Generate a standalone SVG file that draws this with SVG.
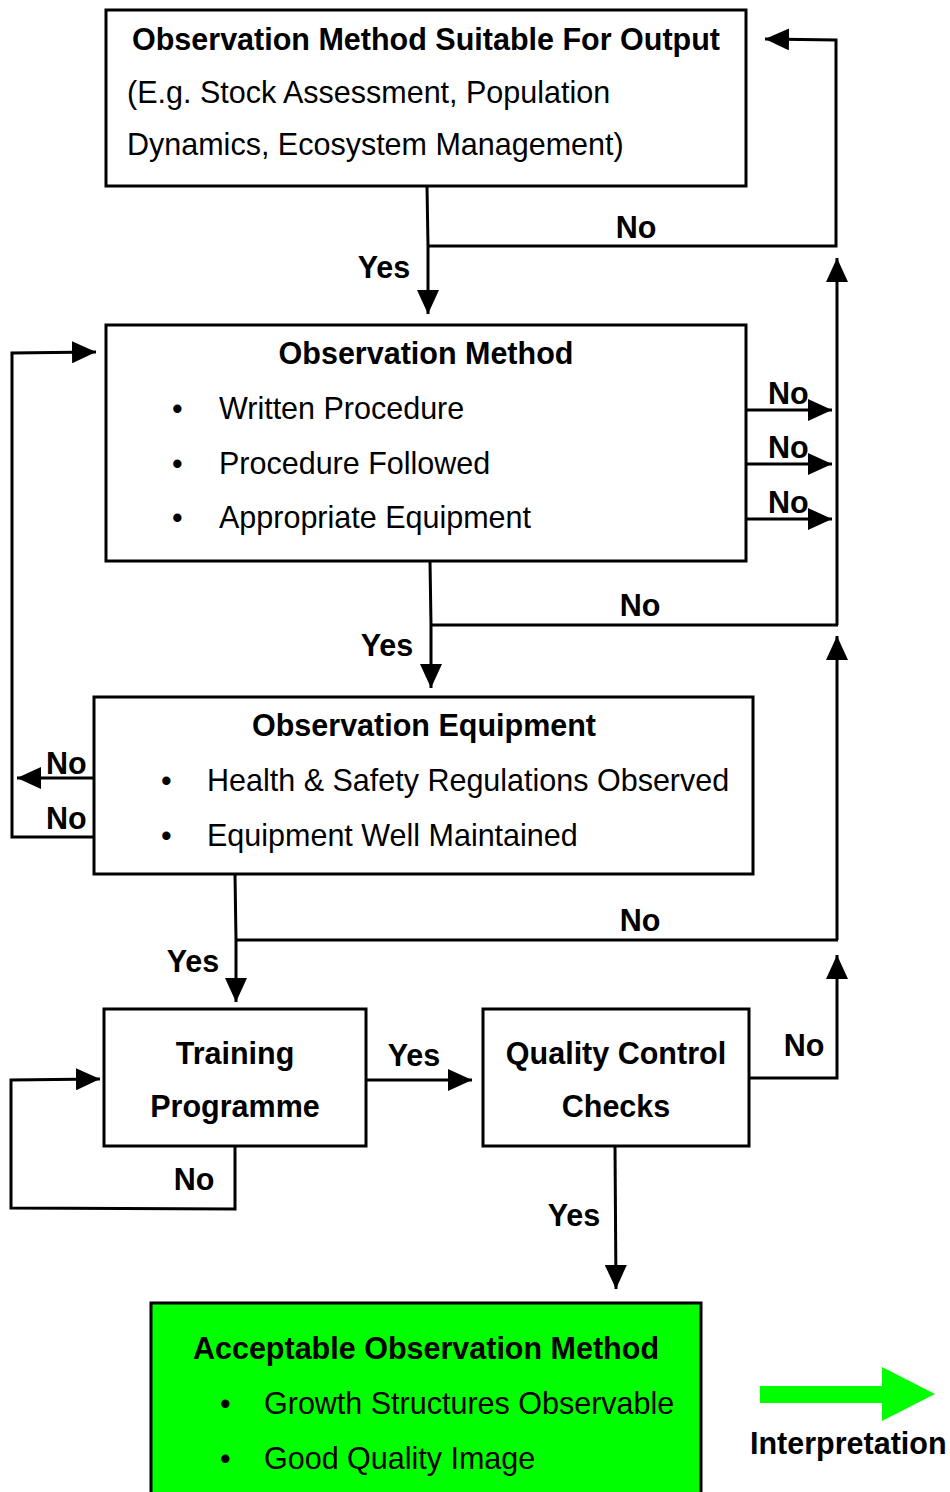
<svg xmlns="http://www.w3.org/2000/svg" width="950" height="1492" viewBox="0 0 950 1492">
<style>
.box{fill:#fff;stroke:#000;stroke-width:3}
.t{font-family:"Liberation Sans",Arial,sans-serif;font-size:30.5px;fill:#000}
.b{font-weight:bold}
.c{text-anchor:middle}
.ln{fill:none;stroke:#000;stroke-width:3}
</style>
<defs>
<marker id="ah" markerUnits="userSpaceOnUse" markerWidth="24" markerHeight="22" refX="24" refY="11" orient="auto">
<path d="M0,0 L24,11 L0,22 z" fill="#000"/>
</marker>
</defs>
<g id="connectors">
<polyline class="ln" points="427,186 428,246 428,314" marker-end="url(#ah)"/>
<polyline class="ln" points="428,246 836,246 836,40 765,39" marker-end="url(#ah)"/>
<line class="ln" x1="837" y1="625" x2="837" y2="258" marker-end="url(#ah)"/>
<line class="ln" x1="742" y1="410" x2="832" y2="410" marker-end="url(#ah)"/>
<line class="ln" x1="746" y1="464" x2="832" y2="464" marker-end="url(#ah)"/>
<line class="ln" x1="746" y1="519" x2="832" y2="519" marker-end="url(#ah)"/>
<polyline class="ln" points="430,561 431,625 431,688" marker-end="url(#ah)"/>
<line class="ln" x1="431" y1="625" x2="838" y2="625"/>
<line class="ln" x1="837" y1="940" x2="837" y2="636" marker-end="url(#ah)"/>
<line class="ln" x1="94" y1="778" x2="17" y2="778" marker-end="url(#ah)"/>
<polyline class="ln" points="94,837 12,837 12,353 96,352" marker-end="url(#ah)"/>
<polyline class="ln" points="235,874 236,940 236,1002" marker-end="url(#ah)"/>
<line class="ln" x1="236" y1="940" x2="838" y2="940"/>
<line class="ln" x1="366" y1="1080" x2="472" y2="1080" marker-end="url(#ah)"/>
<polyline class="ln" points="749,1078 837,1078 837,955" marker-end="url(#ah)"/>
<polyline class="ln" points="235,1146 235,1209 11,1208 11,1080 100,1079" marker-end="url(#ah)"/>
<line class="ln" x1="615" y1="1146" x2="616" y2="1289" marker-end="url(#ah)"/>
<polygon points="760,1386 882,1386 882,1367 935,1394 882,1421 882,1403 760,1403" fill="#00ff00"/>
<text class="t b c" x="636" y="238">No</text>
<text class="t b c" x="384" y="278">Yes</text>
<text class="t b" x="768" y="404">No</text>
<text class="t b" x="768" y="458">No</text>
<text class="t b" x="768" y="513">No</text>
<text class="t b c" x="640" y="616">No</text>
<text class="t b c" x="387" y="656">Yes</text>
<text class="t b" x="46" y="774">No</text>
<text class="t b" x="46" y="829">No</text>
<text class="t b c" x="640" y="931">No</text>
<text class="t b c" x="193" y="972">Yes</text>
<text class="t b c" x="414" y="1066">Yes</text>
<text class="t b c" x="804" y="1056">No</text>
<text class="t b c" x="194" y="1190">No</text>
<text class="t b c" x="574" y="1226">Yes</text>
<text class="t b" x="750" y="1454">Interpretation</text>
</g>
<g id="node-output">
<rect class="box" x="106" y="10" width="640" height="176"/>
<text class="t b c" x="426" y="50">Observation Method Suitable For Output</text>
<text class="t" x="127" y="103">(E.g. Stock Assessment, Population</text>
<text class="t" x="127" y="155">Dynamics, Ecosystem Management)</text>
</g>
<g id="node-method">
<rect class="box" x="106" y="325" width="640" height="236"/>
<text class="t b c" x="426" y="364">Observation Method</text>
<text class="t" x="172" y="419">•</text>
<text class="t" x="219" y="419">Written Procedure</text>
<text class="t" x="172" y="474">•</text>
<text class="t" x="219" y="474">Procedure Followed</text>
<text class="t" x="172" y="528">•</text>
<text class="t" x="219" y="528">Appropriate Equipment</text>
</g>
<g id="node-equipment">
<rect class="box" x="94" y="697" width="659" height="177"/>
<text class="t b c" x="424" y="736">Observation Equipment</text>
<text class="t" x="161" y="791">•</text>
<text class="t" x="207" y="791">Health &amp; Safety Regulations Observed</text>
<text class="t" x="161" y="846">•</text>
<text class="t" x="207" y="846">Equipment Well Maintained</text>
</g>
<g id="node-training">
<rect class="box" x="104" y="1009" width="262" height="137"/>
<text class="t b c" x="235" y="1064">Training</text>
<text class="t b c" x="235" y="1117">Programme</text>
</g>
<g id="node-qc">
<rect class="box" x="483" y="1009" width="266" height="137"/>
<text class="t b c" x="616" y="1064">Quality Control</text>
<text class="t b c" x="616" y="1117">Checks</text>
</g>
<g id="node-acceptable">
<rect x="151" y="1303" width="550" height="210" fill="#00ff00" stroke="#000" stroke-width="3"/>
<text class="t b c" x="426" y="1359">Acceptable Observation Method</text>
<text class="t" x="220" y="1414">•</text>
<text class="t" x="264" y="1414">Growth Structures Observable</text>
<text class="t" x="220" y="1469">•</text>
<text class="t" x="264" y="1469">Good Quality Image</text>
</g>
</svg>
